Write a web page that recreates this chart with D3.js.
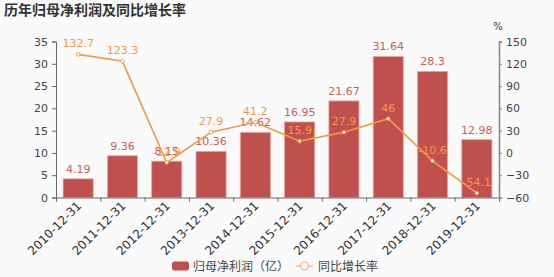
<!DOCTYPE html>
<html>
<head>
<meta charset="utf-8">
<script src="https://cdn.jsdelivr.net/npm/d3@7"></script>
<style>
  body { margin: 0; background: #fafafa; }
  svg { display: block; font-family: "Noto Sans CJK SC", "DejaVu Sans", sans-serif; }
</style>
</head>
<body>
<svg id="chart"></svg>
<script>
// data
const years = ["2010-12-31","2011-12-31","2012-12-31","2013-12-31","2014-12-31","2015-12-31","2016-12-31","2017-12-31","2018-12-31","2019-12-31"];
const profit = [4.19, 9.36, 8.15, 10.36, 14.62, 16.95, 21.67, 31.64, 28.3, 12.98];
const growth = [132.7, 123.3, -12.9, 27.9, 41.2, 15.9, 27.9, 46, -10.6, -54.1];
const leftTicks = [0, 5, 10, 15, 20, 25, 30, 35];
const rightTicks = [-60, -30, 0, 30, 60, 90, 120, 150];

const W = 554, H = 277;
const margin = {left: 56, right: 55, top: 41.5, bottom: 79.5};
const BAR = "#c0504d", LINE = "#f79646";

const svg = d3.select("#chart").attr("width", W).attr("height", H);
svg.append("rect").attr("width", W).attr("height", H).attr("fill", "#fafafa");

// title
svg.append("text")
    .attr("x", 4).attr("y", 15)
    .attr("font-size", 14).attr("font-weight", "bold").attr("fill", "#333")
    .text("历年归母净利润及同比增长率");

const x = d3.scaleBand().domain(years)
    .range([margin.left, W - margin.right]).paddingInner(0.32).paddingOuter(0.16);
const yL = d3.scaleLinear().domain([0, 35]).range([H - margin.bottom, margin.top]);
const yR = d3.scaleLinear().domain([-60, 150]).range([H - margin.bottom, margin.top]);

// bars
svg.append("g").selectAll("rect").data(profit).join("rect")
    .attr("x", (d, i) => x(years[i]))
    .attr("y", d => yL(d))
    .attr("width", x.bandwidth())
    .attr("height", d => yL(0) - yL(d))
    .attr("fill", BAR)
    .attr("stroke", "#e8a9a7").attr("stroke-width", 0.8);

// axes
const xAxis = svg.append("g")
    .attr("transform", `translate(0,${yL(0)})`)
    .call(d3.axisBottom(d3.scalePoint().domain(d3.range(years.length + 1))
        .range([margin.left, W - margin.right])).tickSize(4).tickFormat(""));
xAxis.select(".domain").attr("stroke", "#666");
xAxis.selectAll(".tick line").attr("stroke", "#666");

svg.append("g").selectAll("text").data(years).join("text")
    .attr("transform", d => `translate(${x(d) + x.bandwidth() / 2 + 4},${yL(0) + 9}) rotate(-45)`)
    .attr("text-anchor", "end")
    .attr("font-size", 12).attr("fill", "#333").attr("font-family", "DejaVu Sans")
    .text(d => d);

const leftAxis = svg.append("g")
    .attr("transform", `translate(${margin.left},0)`)
    .call(d3.axisLeft(yL).tickValues(leftTicks).tickSize(4).tickPadding(4));
leftAxis.select(".domain").attr("stroke", "#666");
leftAxis.selectAll(".tick line").attr("stroke", "#666");
leftAxis.selectAll("text").attr("font-size", 11).attr("fill", "#444").attr("font-family", "DejaVu Sans");

const rightAxis = svg.append("g")
    .attr("transform", `translate(${W - margin.right},0)`)
    .call(d3.axisRight(yR).tickValues(rightTicks).tickSize(3).tickPadding(4));
rightAxis.select(".domain").attr("stroke", "#888").attr("stroke-width", 1.5);
rightAxis.selectAll(".tick line").attr("stroke", "#888");
rightAxis.selectAll("text").attr("font-size", 11).attr("fill", "#444").attr("font-family", "DejaVu Sans");

svg.append("text")
    .attr("x", W - margin.right - 1).attr("y", 30)
    .attr("text-anchor", "middle").attr("font-size", 10).attr("fill", "#333")
    .attr("font-family", "DejaVu Sans")
    .text("%");

// bar labels
svg.append("g").selectAll("text").data(profit).join("text")
    .attr("x", (d, i) => x(years[i]) + x.bandwidth() / 2)
    .attr("y", d => yL(d) - 6)
    .attr("text-anchor", "middle")
    .attr("font-size", 11).attr("fill", "#c9605d").attr("font-family", "DejaVu Sans")
    .text(d => d);

// growth line
const cx = (d, i) => x(years[i]) + x.bandwidth() / 2;
svg.append("path").datum(growth)
    .attr("fill", "none").attr("stroke", LINE).attr("stroke-width", 1.6)
    .attr("d", d3.line().x(cx).y(d => yR(d)));

svg.append("g").selectAll("circle").data(growth).join("circle")
    .attr("cx", cx).attr("cy", d => yR(d)).attr("r", 1.8)
    .attr("fill", "#fff").attr("stroke", LINE).attr("stroke-width", 1);

svg.append("g").selectAll("text").data(growth).join("text")
    .attr("x", cx).attr("y", d => yR(d) - 7)
    .attr("text-anchor", "middle")
    .attr("font-size", 11).attr("fill", LINE).attr("font-family", "DejaVu Sans")
    .text(d => d);

// legend
const lg = svg.append("g").attr("transform", "translate(0,266)");
lg.append("rect").attr("x", 172).attr("y", -4.5).attr("width", 17).attr("height", 9).attr("rx", 2.5).attr("fill", BAR);
lg.append("text").attr("x", 193).attr("y", 4.5).attr("font-size", 12).attr("fill", "#444").text("归母净利润（亿）");
lg.append("line").attr("x1", 296).attr("x2", 313).attr("y1", 0).attr("y2", 0).attr("stroke", "#f9b27a").attr("stroke-width", 1.2);
lg.append("circle").attr("cx", 304.5).attr("cy", 0).attr("r", 4).attr("fill", "#fafafa").attr("stroke", "#f9b27a").attr("stroke-width", 1.2);
lg.append("text").attr("x", 318).attr("y", 4.5).attr("font-size", 12).attr("fill", "#444").text("同比增长率");
</script>
</body>
</html>
